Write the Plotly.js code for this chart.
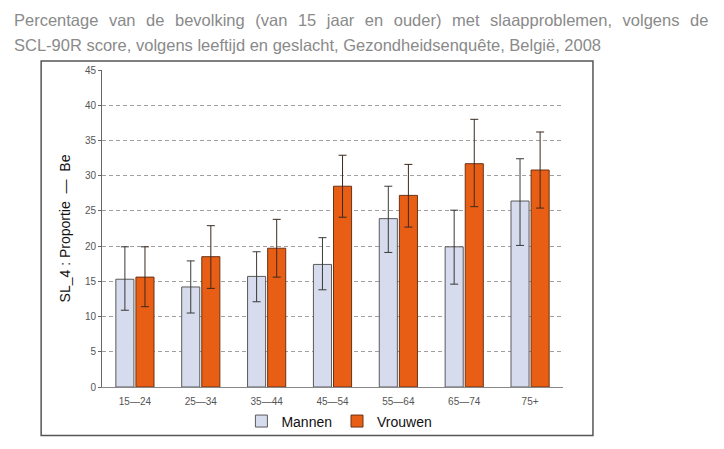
<!DOCTYPE html>
<html>
<head>
<meta charset="utf-8">
<script src="https://cdn.plot.ly/plotly-3.0.1.min.js"></script>
<style>
  html, body { margin: 0; padding: 0; background: #fff; }
  #chart { width: 724px; height: 449px; }
</style>
</head>
<body>
<div id="chart"></div>
<script>
// age groups
const ageGroups = ['15—24', '25—34', '35—44', '45—54', '55—64', '65—74', '75+'];

// Mannen: estimate + confidence interval
const menValues = [15.3, 14.2, 15.7, 17.4, 23.9, 19.9, 26.4];
const menUpper  = [19.9, 17.9, 19.2, 21.2, 28.5, 25.1, 32.4];
const menLower  = [10.9, 10.5, 12.1, 13.8, 19.1, 14.6, 20.1];

// Vrouwen: estimate + confidence interval
const womenValues = [15.6, 18.5, 19.7, 28.5, 27.2, 31.7, 30.8];
const womenUpper  = [19.9, 22.9, 23.8, 32.9, 31.6, 38.0, 36.2];
const womenLower  = [11.4, 14.0, 15.6, 24.1, 22.7, 25.6, 25.4];

const yTicks = [0, 5, 10, 15, 20, 25, 30, 35, 40, 45];

const titleLine1 = 'Percentage van de bevolking (van 15 jaar en ouder) met slaapproblemen, volgens de';
const titleLine2 = 'SCL-90R score, volgens leeftijd en geslacht, Gezondheidsenquête, België, 2008';

function errPlus(vals, up) {
    return vals.map((v, i) => up[i] - v);
}
function errMinus(vals, low) {
    return vals.map((v, i) => v - low[i]);
}

const data = [
    {
        type: 'bar',
        name: 'Mannen',
        x: ageGroups,
        y: menValues,
        marker: { color: '#d6dbed', line: { color: '#5a5a5a', width: 1 } },
        error_y: {
            type: 'data', symmetric: false,
            array: errPlus(menValues, menUpper),
            arrayminus: errMinus(menValues, menLower),
            color: '#3a3a3a', thickness: 1, width: 4
        }
    },
    {
        type: 'bar',
        name: 'Vrouwen',
        x: ageGroups,
        y: womenValues,
        marker: { color: '#e85e14', line: { color: '#6b3315', width: 1 } },
        error_y: {
            type: 'data', symmetric: false,
            array: errPlus(womenValues, womenUpper),
            arrayminus: errMinus(womenValues, womenLower),
            color: '#3a2a20', thickness: 1, width: 4
        }
    }
];

// widen gaps between words so the first line is justified like the original
const justified = titleLine1.split(' ').join('&nbsp;\u200A ');

const layout = {
    width: 724,
    height: 449,
    margin: { l: 102, r: 161, t: 70, b: 62 },
    paper_bgcolor: '#ffffff',
    plot_bgcolor: '#ffffff',
    font: { family: 'Liberation Sans, Arial, sans-serif', color: '#333' },
    barmode: 'group',
    bargap: 0.39,
    bargroupgap: 0.1,
    showlegend: true,
    legend: {
        orientation: 'h',
        x: 0.515, xanchor: 'center',
        yref: 'container',
        y: 0.097, yanchor: 'top',
        bgcolor: 'rgba(0,0,0,0)',
        font: { size: 14, color: '#111' },
        itemwidth: 30,
        traceorder: 'normal'
    },
    xaxis: {
        automargin: false,
        showline: true, linecolor: '#888', linewidth: 1,
        ticks: '',
        ticklabelstandoff: 5,
        tickfont: { size: 10, color: '#555' },
        showgrid: false
    },
    yaxis: {
        automargin: false,
        range: [0, 45],
        tickvals: yTicks,
        showline: true, linecolor: '#666', linewidth: 1,
        ticks: 'outside', ticklen: 3, tickcolor: '#666',
        tickfont: { size: 10, color: '#555' },
        showgrid: true, gridcolor: '#a0a0a0', griddash: '4px,3px', gridwidth: 1,
        zeroline: false,
        title: { text: 'SL_4 : Proportie  —  Be', font: { size: 14, color: '#111' }, standoff: 10 }
    },
    shapes: [
        {
            type: 'rect', xref: 'paper', yref: 'paper',
            x0: -0.132, x1: 1.065, y0: -0.153, y1: 1.028,
            line: { color: '#555', width: 1.5 }
        }
    ],
    annotations: [
        {
            text: justified, xref: 'paper', yref: 'paper',
            x: -0.196, y: 1.158, xanchor: 'left', yanchor: 'middle',
            showarrow: false, font: { size: 16.5, color: '#8a8a8a' }
        },
        {
            text: titleLine2, xref: 'paper', yref: 'paper',
            x: -0.196, y: 1.079, xanchor: 'left', yanchor: 'middle',
            showarrow: false, font: { size: 16.5, color: '#8a8a8a' }
        }
    ]
};

Plotly.newPlot('chart', data, layout, { displayModeBar: false, staticPlot: true });
</script>
</body>
</html>
